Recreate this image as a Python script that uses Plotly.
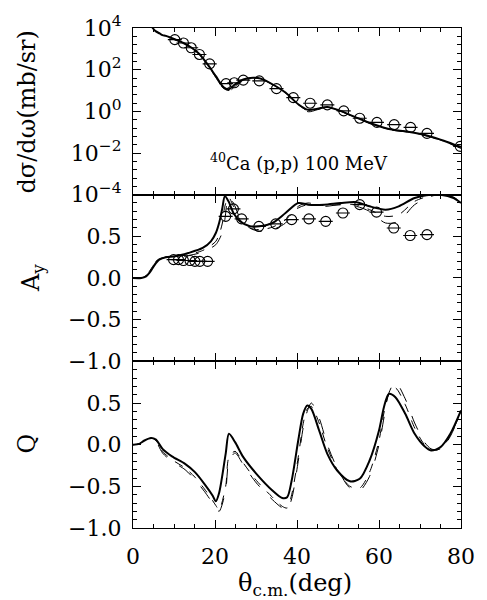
import plotly.graph_objects as go
from plotly.subplots import make_subplots

# ---------------- data ----------------
# cross section (log10 of mb/sr)
xs_theta = [3.0, 4.0, 4.8, 5.5, 6.5, 7.2, 8.0, 10.3, 12.3, 14.3, 16.3, 18.2, 20.2, 22.2, 23.4, 24.9,
            26.9, 29.3, 31.2, 34.0, 37.2, 40.3, 42.7, 45.0, 47.4, 50.6, 54.5, 58.5, 62.4, 67.1, 71.9, 75.8, 80.0]
xs_solid_log = [4.6, 4.25, 4.0, 3.85, 3.74, 3.66, 3.62, 3.45, 3.28, 3.05, 2.73, 2.25, 1.69, 1.14, 1.06, 1.30,
                1.53, 1.61, 1.57, 1.30, 0.90, 0.34, 0.07, 0.13, 0.21, 0.02, -0.30, -0.61, -0.85, -0.98, -1.17, -1.41, -1.72]
xs_dash1_log = [4.6, 4.25, 4.0, 3.86, 3.75, 3.67, 3.62, 3.44, 3.27, 3.04, 2.71, 2.22, 1.62, 1.05, 0.96, 1.20,
                1.50, 1.60, 1.56, 1.28, 0.88, 0.30, -0.02, 0.08, 0.19, 0.00, -0.32, -0.63, -0.88, -1.00, -1.20, -1.45, -1.78]
xs_dash2_log = [4.6, 4.25, 4.0, 3.85, 3.74, 3.66, 3.62, 3.44, 3.27, 3.05, 2.72, 2.24, 1.66, 1.09, 1.00, 1.25,
                1.52, 1.61, 1.57, 1.29, 0.89, 0.32, 0.02, 0.10, 0.20, 0.01, -0.31, -0.62, -0.86, -0.99, -1.18, -1.43, -1.75]
xs_data_theta = [10.2, 12.3, 14.2, 16.2, 18.7, 22.7, 24.7, 26.9, 30.8, 35.0, 39.1, 43.2, 47.4,
                 51.4, 55.3, 59.5, 63.7, 67.7, 71.7, 79.8]
xs_data_log = [3.44, 3.28, 3.05, 2.73, 2.28, 1.33, 1.37, 1.50, 1.46, 1.09, 0.66, 0.39, 0.31,
               0.02, -0.33, -0.53, -0.64, -0.77, -1.06, -1.68]

# analysing power
ay_theta = [0.0, 2.0, 3.2, 4.0, 4.8, 5.6, 6.4, 8.0, 10.3, 13.5, 17.0, 19.0, 20.2, 21.0, 21.8, 22.4, 23.3,
            24.5, 26.1, 28.5, 30.8, 34.0, 37.2, 40.3, 42.7, 46.6, 50.6, 54.5, 57.7, 61.6, 64.8, 68.7,
            72.7, 75.0, 78.2, 80.0]
ay_solid = [0.0, 0.0, 0.02, 0.06, 0.12, 0.18, 0.22, 0.25, 0.26, 0.30, 0.36, 0.44, 0.54, 0.66, 0.84, 0.98, 0.92,
            0.78, 0.68, 0.62, 0.62, 0.66, 0.78, 0.90, 0.88, 0.88, 0.90, 0.91, 0.86, 0.82, 0.86, 0.96,
            1.00, 1.00, 0.96, 0.90]
ay_dash1 = [0.0, 0.0, 0.03, 0.09, 0.15, 0.20, 0.23, 0.25, 0.25, 0.27, 0.31, 0.36, 0.40, 0.46, 0.55, 0.70, 0.97,
            0.90, 0.72, 0.60, 0.56, 0.58, 0.66, 0.86, 0.90, 0.86, 0.88, 0.86, 0.80, 0.66, 0.68, 0.88,
            0.98, 1.00, 0.97, 0.90]
ay_dash2 = [0.0, 0.0, 0.03, 0.08, 0.14, 0.19, 0.22, 0.25, 0.26, 0.28, 0.33, 0.39, 0.44, 0.52, 0.66, 0.86, 0.97,
            0.86, 0.70, 0.60, 0.58, 0.61, 0.70, 0.84, 0.88, 0.87, 0.88, 0.88, 0.82, 0.74, 0.76, 0.92,
            0.99, 1.00, 0.97, 0.90]
ay_data_theta = [9.9, 11.1, 12.3, 13.9, 15.1, 16.3, 18.2, 22.6, 24.5, 26.5, 30.7, 34.8, 38.7,
                 42.9, 47.0, 51.2, 55.3, 59.4, 63.6, 67.6, 71.7]
ay_data = [0.22, 0.22, 0.21, 0.21, 0.20, 0.20, 0.20, 0.74, 0.83, 0.71, 0.62, 0.65, 0.70,
           0.71, 0.68, 0.78, 0.88, 0.79, 0.60, 0.51, 0.52]

# spin rotation Q
q_theta = [0.0, 1.5, 2.8, 4.4, 5.6, 7.2, 9.5, 12.7, 15.1, 17.4, 19.4, 20.2, 21.0, 22.6, 23.4, 24.9, 26.9,
           30.1, 34.0, 36.4, 37.6, 38.7, 40.3, 41.5, 42.5, 43.5, 45.4, 47.4, 49.8, 52.9, 55.3, 57.7,
           60.0, 61.2, 62.4, 64.0, 66.4, 68.7, 71.1, 72.7, 75.0, 77.4, 80.0]
q_solid = [0.0, 0.01, 0.05, 0.08, 0.06, -0.05, -0.14, -0.23, -0.33, -0.47, -0.61, -0.68, -0.58, -0.11, 0.13,
           0.03, -0.15, -0.35, -0.55, -0.64, -0.63, -0.43, 0.05, 0.37, 0.47, 0.43, 0.17, -0.11, -0.31,
           -0.44, -0.41, -0.19, 0.17, 0.45, 0.61, 0.57, 0.37, 0.13, -0.02, -0.07, -0.03, 0.13, 0.41]
q_dash1 = [0.0, 0.01, 0.05, 0.08, 0.04, -0.10, -0.20, -0.30, -0.42, -0.56, -0.70, -0.76, -0.80, -0.55, -0.20,
           -0.10, -0.24, -0.46, -0.66, -0.76, -0.78, -0.65, -0.20, 0.20, 0.40, 0.50, 0.32, 0.00, -0.28,
           -0.52, -0.55, -0.38, 0.00, 0.32, 0.62, 0.75, 0.55, 0.26, 0.03, -0.05, -0.06, 0.10, 0.40]
q_dash2 = [0.0, 0.01, 0.05, 0.08, 0.05, -0.08, -0.18, -0.28, -0.39, -0.53, -0.67, -0.73, -0.78, -0.50, -0.15,
           -0.08, -0.22, -0.43, -0.63, -0.74, -0.76, -0.60, -0.15, 0.25, 0.43, 0.46, 0.26, -0.04, -0.30,
           -0.50, -0.52, -0.33, 0.05, 0.38, 0.60, 0.68, 0.48, 0.20, 0.00, -0.06, -0.05, 0.11, 0.40]

x_ticks = [0, 20, 40, 60, 80]
xs_tick_exp = [-4, -2, 0, 2, 4]
lin_ticks = [-1.0, -0.5, 0.0, 0.5]

FONT = "DejaVu Serif"
BLACK = "black"

fig = make_subplots(rows=3, cols=1, shared_xaxes=True, vertical_spacing=0)


def add_curves(row, x, ys, y_transform=None):
    styles = [("solid", 2.0), ("longdash", 1.0), ("dash", 1.0)]
    for y, (dash, w) in zip(ys, styles):
        yy = [y_transform(v) for v in y] if y_transform else y
        fig.add_trace(go.Scatter(x=x, y=yy, mode="lines", line=dict(color=BLACK, width=w, dash=dash,
                                                                     shape="spline", smoothing=0.8),
                                 showlegend=False, hoverinfo="skip"), row=row, col=1)


def add_points(row, x, y):
    fig.add_trace(go.Scatter(x=x, y=y, mode="markers",
                             marker=dict(symbol="circle-open", size=10, color=BLACK, line=dict(width=1.1)),
                             showlegend=False), row=row, col=1)
    fig.add_trace(go.Scatter(x=x, y=y, mode="markers",
                             marker=dict(symbol="line-ew-open", size=10, color=BLACK, line=dict(width=1.1)),
                             showlegend=False), row=row, col=1)


pow10 = lambda v: 10 ** v
add_curves(1, xs_theta, [xs_solid_log, xs_dash1_log, xs_dash2_log], pow10)
add_points(1, xs_data_theta, [pow10(v) for v in xs_data_log])
add_curves(2, ay_theta, [ay_solid, ay_dash1, ay_dash2])
add_points(2, ay_data_theta, ay_data)
add_curves(3, q_theta, [q_solid, q_dash1, q_dash2])

tickfont = dict(family=FONT, size=22, color=BLACK)
common_axis = dict(showline=True, linecolor=BLACK, linewidth=1.3, mirror="ticks", ticks="inside",
                   ticklen=8, tickwidth=1, tickcolor=BLACK, showgrid=False, zeroline=False,
                   tickfont=tickfont)

for r in (1, 2, 3):
    fig.update_xaxes(range=[0, 80], tickvals=x_ticks, ticktext=[str(v) for v in x_ticks],
                     showticklabels=(r == 3), ticklabelstandoff=8,
                     minor=dict(dtick=5, tick0=0, ticks="inside", ticklen=4, tickcolor=BLACK, showgrid=False),
                     row=r, col=1, **common_axis)

minus = "\u2212"
fig.update_yaxes(type="log", range=[-4, 4], tickvals=[10 ** e for e in xs_tick_exp],
                 ticktext=["10<sup>" + (minus + str(-e) if e < 0 else str(e)) + "</sup>" for e in xs_tick_exp],
                 minor=dict(tickmode="array", tickvals=[10 ** (k * 0.4) for k in range(-10, 11)],
                            ticks="inside", ticklen=4, tickcolor=BLACK, showgrid=False),
                 ticklabelstandoff=6, row=1, col=1, **common_axis)
lin_text = [(minus + f"{abs(v):.1f}") if v < 0 else f"{v:.1f}" for v in lin_ticks]
for r in (2, 3):
    fig.update_yaxes(range=[-1.0, 1.0], tickvals=lin_ticks, ticktext=lin_text,
                     minor=dict(dtick=0.1, tick0=0, ticks="inside", ticklen=4, tickcolor=BLACK, showgrid=False),
                     ticklabelstandoff=6, row=r, col=1, **common_axis)

# axis titles as rotated annotations
plot_left, plot_w = 133, 338
def px_x(px):
    return (px - plot_left) / plot_w

title_font = dict(family=FONT, size=24, color=BLACK)
fig.add_annotation(text="dσ/dω(mb/sr)", xref="paper", yref="paper", x=px_x(24), y=5 / 6,
                   textangle=-90, showarrow=False, font=title_font, xanchor="center", yanchor="middle")
fig.add_annotation(text="A<sub>y</sub>", xref="paper", yref="paper", x=px_x(29), y=0.5,
                   textangle=-90, showarrow=False, font=title_font, xanchor="center", yanchor="middle")
fig.add_annotation(text="Q", xref="paper", yref="paper", x=px_x(24), y=1 / 6 + 0.003,
                   textangle=-90, showarrow=False, font=title_font, xanchor="center", yanchor="middle")
fig.add_annotation(text="θ<sub>c.m.</sub>(deg)", xref="paper", yref="paper", x=px_x(300), y=-0.113,
                   showarrow=False, font=title_font, xanchor="center", yanchor="middle")
fig.add_annotation(text="<sup>40</sup>Ca\u00a0(p,p)\u00a0100\u00a0MeV", xref="paper", yref="paper",
                   x=px_x(304), y=(528 - 160) / 503, showarrow=False,
                   font=dict(family=FONT, size=18, color=BLACK), xanchor="center", yanchor="middle")

fig.update_layout(width=487, height=600, margin=dict(l=133, r=16, t=25, b=72),
                  paper_bgcolor="white", plot_bgcolor="white", showlegend=False)

fig.write_html("out.html")
